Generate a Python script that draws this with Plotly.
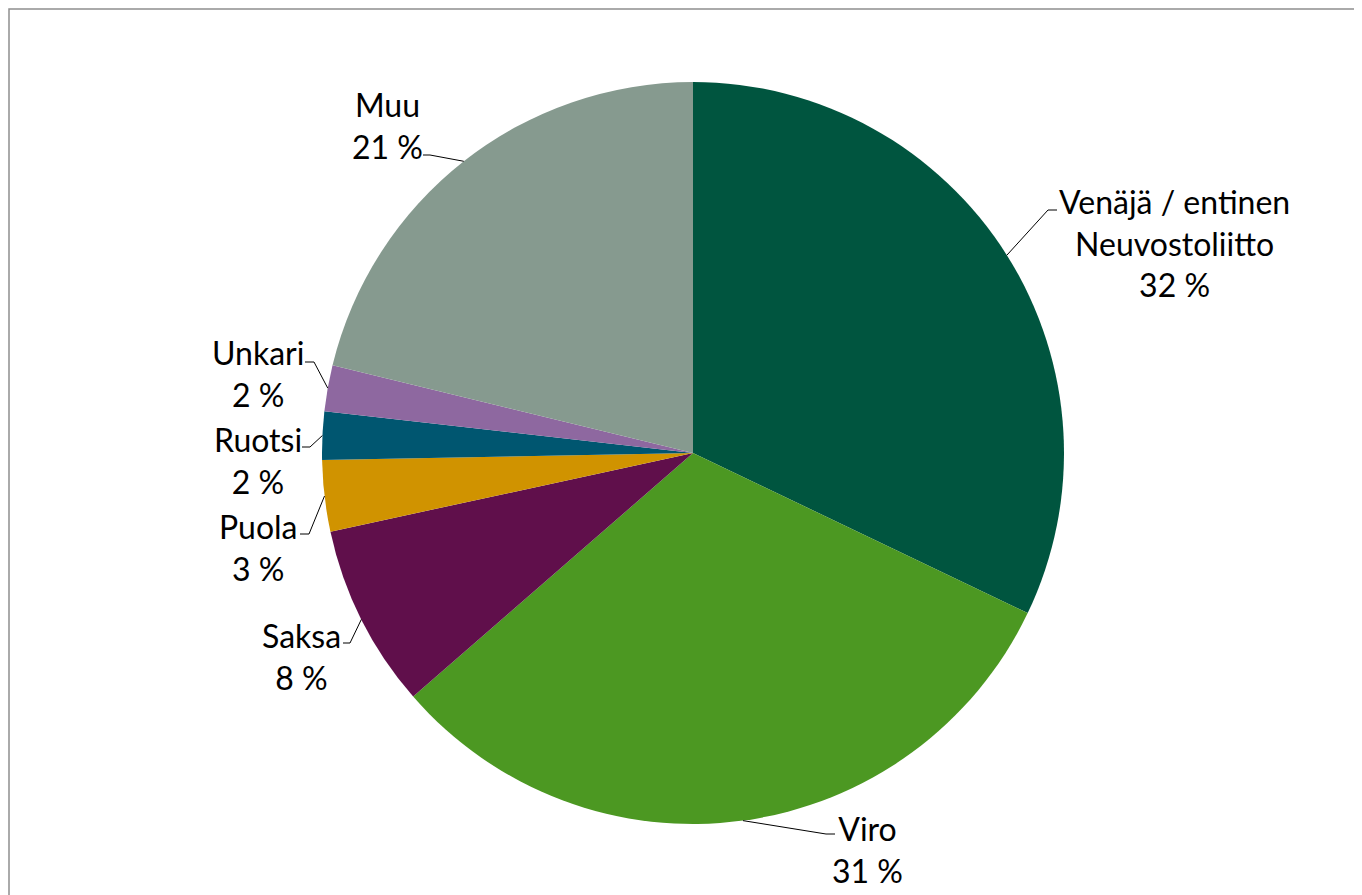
import math
import plotly.graph_objects as go

# Shares by country of origin (%)
countries = ["Venäjä / entinen<br>Neuvostoliitto", "Viro", "Saksa", "Puola", "Ruotsi", "Unkari", "Muu"]
shares = [32.1, 31.5, 8.0, 3.1, 2.1, 2.0, 21.2]
share_labels = ["32 %", "31 %", "8 %", "3 %", "2 %", "2 %", "21 %"]
colors = ["#00553F", "#4C9822", "#600F4B", "#D09300", "#005670", "#8E68A0", "#869A8F"]

OFF = 8  # page body margin
W, H = 1362 - OFF, 895 - OFF
CX, CY, R = 693, 453, 371  # pie centre / radius (page px)

# label centres and leader-line knee/end points (page px), layout only
label_pos = [(1174, 243), (867, 849), (301, 656), (258, 547), (258, 460), (258, 373), (388, 126)]
knees = [((1048, 210), (1057, 210)), ((826, 834), (835, 834)), ((350, 643), (343, 643)),
         ((309, 534), (300, 534)), ((310, 447), (302, 447)), ((314, 362), (305, 362)),
         ((430, 155), (423, 155))]


def px(x, y):
    return (x - OFF) / W, 1 - (y - OFF) / H


dx0, dy1 = px(CX - R, CY - R)
dx1, dy0 = px(CX + R, CY + R)

fig = go.Figure(go.Pie(
    labels=countries, values=shares, sort=False, direction="clockwise", rotation=0,
    marker=dict(colors=colors, line=dict(width=0)),
    textinfo="none", hoverinfo="label+percent", showlegend=False,
    domain=dict(x=[dx0, dx1], y=[dy0, dy1]),
))

total = sum(shares)
cum = 0
for name, val, lab, (lx, ly), (kp, ep) in zip(countries, shares, share_labels, label_pos, knees):
    mid = (cum + val / 2) / total * 2 * math.pi
    cum += val
    ex, ey = CX + R * math.sin(mid), CY - R * math.cos(mid)
    x0, y0 = px(ex, ey)
    x1, y1 = px(*kp)
    x2, y2 = px(*ep)
    fig.add_shape(type="path", xref="paper", yref="paper",
                  path=f"M {x0} {y0} L {x1} {y1} L {x2} {y2}",
                  line=dict(color="black", width=1))
    ax, ay = px(lx, ly)
    fig.add_annotation(x=ax, y=ay, xref="paper", yref="paper", showarrow=False,
                       text=f"{name}<br>{lab}", align="center",
                       xanchor="center", yanchor="middle",
                       font=dict(family="Lato, Open Sans, sans-serif", size=32, color="black"))

# chart frame (cropped on the right and bottom)
fig.add_shape(type="rect", xref="paper", yref="paper",
              x0=1 / W, y0=-0.02, x1=1.02, y1=1 - 1 / H,
              line=dict(color="#8f8f8f", width=1.5))

fig.update_layout(
    width=W, height=H,
    margin=dict(l=0, r=0, t=0, b=0),
    paper_bgcolor="white", plot_bgcolor="white",
)

fig.write_html("out.html")
